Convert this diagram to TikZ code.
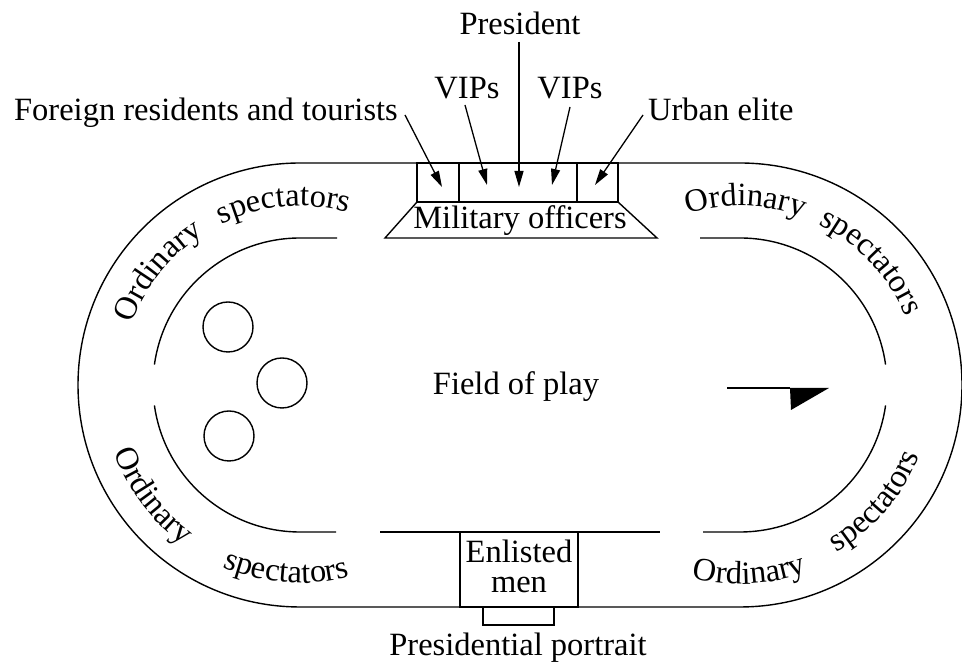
\documentclass[tikz,border=0pt]{standalone}
\usepackage{fontspec}
\setmainfont{Liberation Serif}
\usetikzlibrary{arrows.meta,decorations.text,calc}
\newcommand\lblfont{\fontsize{32.5}{36}\selectfont}
\begin{document}
\begin{tikzpicture}[x=1pt,y=1pt,
  track/.style={line width=1.4pt, line join=miter},
  lbl/.style={font=\lblfont, inner sep=0pt},
  ptr/.style={line width=1.3pt, -{Triangle[length=16pt,width=9pt]}},
  curved/.style={decorate, decoration={text along path, text format delimiters={|}{|}, text={|\lblfont|#1}}}]
\useasboundingbox (0,0) rectangle (962,663);
\coordinate (L) at (300,278);
\coordinate (R) at (740,278);

% outer track
\draw[track] (300,500) -- (740,500) arc[start angle=90, end angle=-90, radius=222]
  -- (300,56) arc[start angle=270, end angle=90, radius=222] -- cycle;

% inner track segments
\draw[track] (337,425) -- (300,425) arc[start angle=90, end angle=172, radius=147];
\draw[track] ($(L)+(188:147)$) arc[start angle=188, end angle=270, radius=147] -- (336,131);
\draw[track] (380,131) -- (660,131);
\draw[track] (703,131) -- (740,131) arc[start angle=-90, end angle=-8, radius=147];
\draw[track] ($(R)+(8:147)$) arc[start angle=8, end angle=90, radius=147] -- (700,425);

% VIP stand
\draw[track] (417,461) rectangle (618,500);
\draw[track] (459,461) -- (459,500);
\draw[track] (577,461) -- (577,500);
\draw[track] (417,461) -- (385,425) -- (657,425) -- (618,461);
\node[lbl, anchor=base] (mil) at (520,434) {Military officers};

% enlisted men box and portrait
\draw[track] (460,131) rectangle (578,56);
\node[lbl, anchor=base] (enl1) at (519,100) {Enlisted};
\node[lbl, anchor=base] (enl2) at (519,70) {men};
\draw[track] (483,56) -- (483,38) -- (554,38) -- (554,56);
\node[lbl, anchor=base] (portrait) at (518,7) {Presidential portrait};

% field
\node[lbl, anchor=base] (field) at (516,268) {Field of play};
\draw[track] (228,336) circle[radius=25];
\draw[track] (282,280) circle[radius=25];
\draw[track] (229,227) circle[radius=25];
\draw[track] (727,275) -- (790,275);
\fill (790,275) -- (829,275) -- (791,253) -- cycle;

% top labels and pointers
\node[lbl, anchor=base] (pres) at (520,628) {President};
\node[lbl, anchor=base] (vipl) at (467,564) {VIPs};
\node[lbl, anchor=base] (vipr) at (570,564) {VIPs};
\node[lbl, anchor=base east] (foreign) at (398,542) {Foreign residents and tourists};
\node[lbl, anchor=base west] (urban) at (648,542) {Urban elite};
\coordinate (presA) at (519,621);  \coordinate (presB) at (519,476);
\coordinate (viplA) at (465,558);  \coordinate (viplB) at (487,478);
\coordinate (viprA) at (570,556);  \coordinate (viprB) at (552,478);
\coordinate (forA) at (405,548);   \coordinate (forB) at (442,476);
\coordinate (urbA) at (643,548);   \coordinate (urbB) at (595,478);
\draw[ptr] (presA) -- (presB);
\draw[ptr] (viplA) -- (viplB);
\draw[ptr] (viprA) -- (viprB);
\draw[ptr] (forA) -- (forB);
\draw[ptr] (urbA) -- (urbB);

% curved spectator labels
\path[curved=Ordinary] ($(L)+(160:179)$) arc[start angle=160, end angle=110, radius=179];
\path[curved=spectators] ($(L)+(116:179)$) arc[start angle=116, end angle=66, radius=179];
\path[curved=Ordinary] ($(R)+(107:179)$) arc[start angle=107, end angle=62, radius=179];
\path[curved=spectators] ($(R)+(64:179)$) arc[start angle=64, end angle=14, radius=179];
\path[curved=Ordinary] ($(L)+(200:198)$) arc[start angle=200, end angle=245, radius=198];
\path[curved=spectators] ($(L)+(247:198)$) arc[start angle=247, end angle=292, radius=198];
\path[curved=Ordinary] ($(R)+(256:199)$) arc[start angle=256, end angle=300, radius=199];
\path[curved=spectators] ($(R)+(300:193)$) arc[start angle=300, end angle=350, radius=193];
\end{tikzpicture}
\end{document}
